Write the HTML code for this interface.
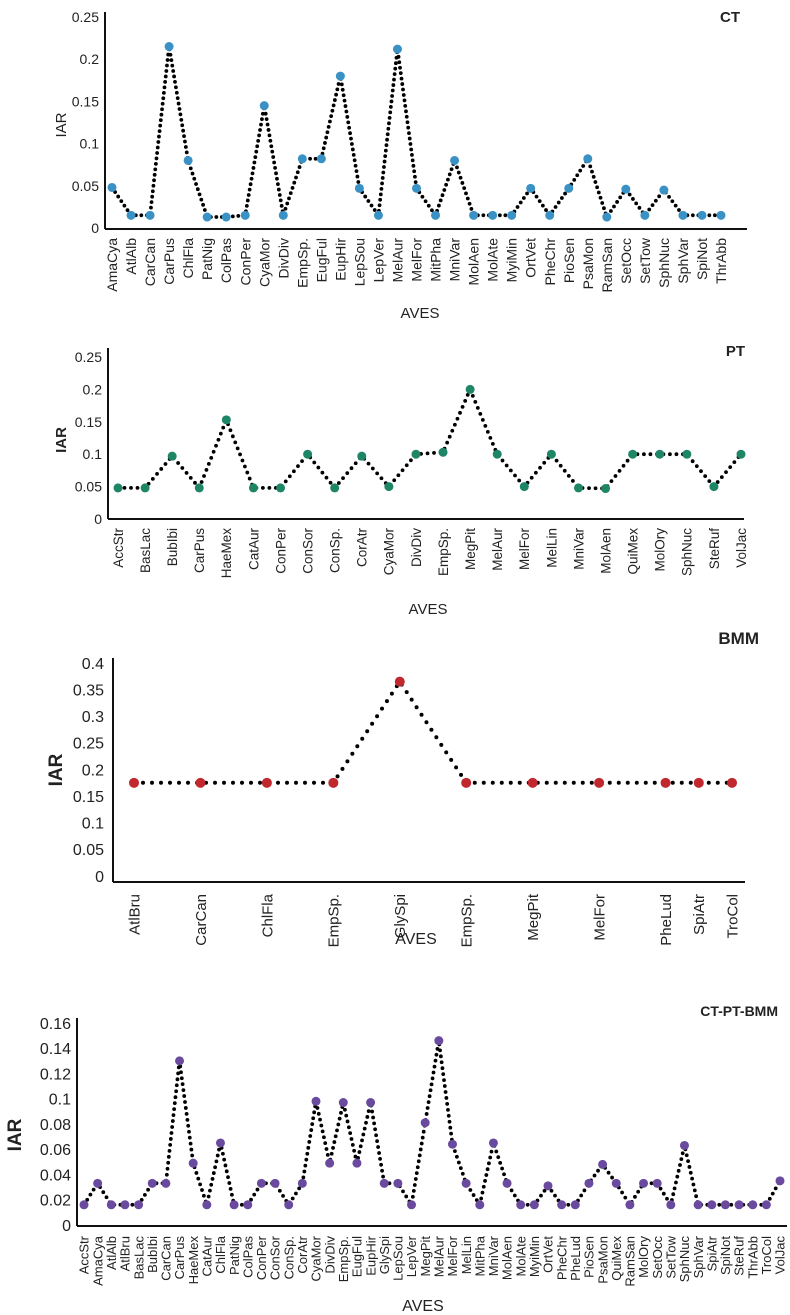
<!DOCTYPE html>
<html><head><meta charset="utf-8"><style>
body{margin:0;background:#fff;width:790px;height:1315px;overflow:hidden}
svg{display:block}
text{font-family:"Liberation Sans",sans-serif;fill:#222}
</style></head><body>
<svg id="s" width="790" height="1315"></svg>
<script>
const ctCats=["AmaCya","AtlAlb","CarCan","CarPus","ChlFla","PatNig","ColPas","ConPer","CyaMor","DivDiv","EmpSp.","EugFul","EupHir","LepSou","LepVer","MelAur","MelFor","MitPha","MniVar","MolAen","MolAte","MyiMin","OrtVet","PheChr","PioSen","PsaMon","RamSan","SetOcc","SetTow","SphNuc","SphVar","SpiNot","ThrAbb"];
const ctVals=[0.048,0.015,0.015,0.215,0.08,0.013,0.013,0.015,0.145,0.015,0.082,0.082,0.18,0.047,0.015,0.212,0.047,0.015,0.08,0.015,0.015,0.015,0.047,0.015,0.047,0.082,0.013,0.046,0.015,0.045,0.015,0.015,0.015];
const ctTicks=["0","0.05","0.1","0.15","0.2","0.25"];
const ptCats=["AccStr","BasLac","BubIbi","CarPus","HaeMex","CatAur","ConPer","ConSor","ConSp.","CorAtr","CyaMor","DivDiv","EmpSp.","MegPit","MelAur","MelFor","MelLin","MniVar","MolAen","QuiMex","MolOry","SphNuc","SteRuf","VolJac"];
const ptVals=[0.048,0.048,0.097,0.048,0.153,0.048,0.048,0.1,0.048,0.097,0.05,0.1,0.103,0.2,0.1,0.05,0.1,0.048,0.047,0.1,0.1,0.1,0.05,0.1];
const ptTicks=["0","0.05","0.1","0.15","0.2","0.25"];
const bmmCats=["AtlBru","CarCan","ChlFla","EmpSp.","GlySpi","EmpSp.","MegPit","MelFor","PheLud","SpiAtr","TroCol"];
const bmmXs=[0,2,4,6,8,10,12,14,16,17,18];
const bmmVals=[0.175,0.175,0.175,0.175,0.365,0.175,0.175,0.175,0.175,0.175,0.175];
const bmmTicks=["0","0.05","0.1","0.15","0.2","0.25","0.3","0.35","0.4"];
const allCats=["AccStr","AmaCya","AtlAlb","AtlBru","BasLac","BubIbi","CarCan","CarPus","HaeMex","CatAur","ChlFla","PatNig","ColPas","ConPer","ConSor","ConSp.","CorAtr","CyaMor","DivDiv","EmpSp.","EugFul","EupHir","GlySpi","LepSou","LepVer","MegPit","MelAur","MelFor","MelLin","MitPha","MniVar","MolAen","MolAte","MyiMin","OrtVet","PheChr","PheLud","PioSen","PsaMon","QuiMex","RamSan","MolOry","SetOcc","SetTow","SphNuc","SphVar","SpiAtr","SpiNot","SteRuf","ThrAbb","TroCol","VolJac"];
const allVals=[0.016,0.033,0.016,0.016,0.016,0.033,0.033,0.13,0.049,0.016,0.065,0.016,0.016,0.033,0.033,0.016,0.033,0.098,0.049,0.097,0.049,0.097,0.033,0.033,0.016,0.081,0.146,0.064,0.033,0.016,0.065,0.033,0.016,0.016,0.031,0.016,0.016,0.033,0.048,0.033,0.016,0.033,0.033,0.016,0.063,0.016,0.016,0.016,0.016,0.016,0.016,0.035];
const allTicks=["0","0.02","0.04","0.06","0.08","0.1","0.12","0.14","0.16"];

const NS="http://www.w3.org/2000/svg";
const svg=document.getElementById('s');
function mk(tag,attrs,parent){const e=document.createElementNS(NS,tag);for(const k in attrs)e.setAttribute(k,attrs[k]);(parent||svg).appendChild(e);return e;}

function chart(o){
  const g=mk('g',{});
  
  
  const xs=o.xs||o.cats.map((c,i)=>i);
  const xmax=xs[xs.length-1];
  const X=v=>o.x0+(o.x1-o.x0)*v/xmax;
  const Y=v=>o.yZero-(o.yZero-o.yTop)*v/o.yMax;
  const ya=mk('line',{x1:o.ax,y1:o.axTop,x2:o.ax,y2:o.axY,stroke:'#111','stroke-width':2},g);
  
  
  const xa=mk('line',{x1:o.ax,y1:o.axY,x2:o.axEnd,y2:o.axY,stroke:'#111','stroke-width':2},g);
  
  
  o.ticks.forEach(t=>{
    const tl=mk('text',{x:o.ax-o.tgap,y:Y(parseFloat(t))+o.tfs*0.36,'text-anchor':'end','font-size':o.tfs},g);
    tl.textContent=t;
    
    
  });
  o.cats.forEach((c,i)=>{
    const x=X(xs[i]);
    const tl=mk('text',{x:0,y:0,'text-anchor':'end','font-size':o.cfs,transform:`translate(${x+o.cfs*0.36},${o.labTop}) rotate(-90)`},g);
    tl.textContent=c;
    
    
  });
  const pts=o.vals.map((v,i)=>X(xs[i]).toFixed(1)+','+Y(v).toFixed(1)).join(' ');
  const pl=mk('polyline',{points:pts,fill:'none',stroke:'#000','stroke-width':o.dw,'stroke-linecap':'round','stroke-dasharray':'0 '+o.gap},g);
  
  
  o.vals.forEach((v,i)=>{
    const c=mk('circle',{cx:X(xs[i]),cy:Y(v),r:o.r,fill:o.color},g);
    
    
  });
  const ax=mk('text',{x:o.xtX,y:o.xtY,'text-anchor':'middle','font-size':o.xtfs},g);
  ax.textContent='AVES';
  
  
  const yt=mk('text',{x:0,y:0,'text-anchor':'middle','font-size':o.ytfs,'font-weight':o.ytw,transform:`translate(${o.ytX},${o.ytY}) rotate(-90)`},g);
  yt.textContent='IAR';
  
  
  const ti=mk('text',{x:o.tX,y:o.tY,'text-anchor':'end','font-size':o.tifs,'font-weight':'bold'},g);
  ti.textContent=o.title;
  
  
}

chart({name:'ct-chart',cats:ctCats,vals:ctVals,ticks:ctTicks,yMax:0.25,yTop:17,yZero:228,x0:112,x1:721,ax:105,axTop:12,axY:229,axEnd:747,labTop:238,tfs:14,tgap:6,cfs:14,dw:3.8,gap:5.5,r:4.5,color:'#3a91c4',xtX:420,xtY:318,xtfs:15,ytX:66,ytY:125,ytfs:15,ytw:'normal',tX:740,tY:22,tifs:15,title:'CT'});
chart({name:'pt-chart',cats:ptCats,vals:ptVals,ticks:ptTicks,yMax:0.25,yTop:357,yZero:519,x0:118,x1:741,ax:108,axTop:348,axY:519,axEnd:744,labTop:528,tfs:14,tgap:6,cfs:13.5,dw:3.8,gap:6.5,r:4.5,color:'#1e8566',xtX:428,xtY:614,xtfs:15,ytX:66,ytY:440,ytfs:15,ytw:'bold',tX:745,tY:356,tifs:15,title:'PT'});
chart({name:'bmm-chart',cats:bmmCats,xs:bmmXs,vals:bmmVals,ticks:bmmTicks,yMax:0.4,yTop:663,yZero:876,x0:134,x1:732,ax:113,axTop:658,axY:882,axEnd:745,labTop:894,tfs:16,tgap:9,cfs:15,dw:4,gap:9,r:5,color:'#c0282e',xtX:416,xtY:944,xtfs:16,ytX:62,ytY:770,ytfs:19,ytw:'bold',tX:759,tY:644,tifs:17,title:'BMM'});
chart({name:'ct-pt-bmm-chart',cats:allCats,vals:allVals,ticks:allTicks,yMax:0.16,yTop:1023,yZero:1225,x0:84,x1:780,ax:77,axTop:1018,axY:1226,axEnd:787,labTop:1236,tfs:16,tgap:6,cfs:13,dw:3.8,gap:6,r:4.5,color:'#6a4a9e',xtX:423,xtY:1311,xtfs:16,ytX:21,ytY:1135,ytfs:19,ytw:'bold',tX:778,tY:1016,tifs:14,title:'CT-PT-BMM'});
</script>
</body></html>
